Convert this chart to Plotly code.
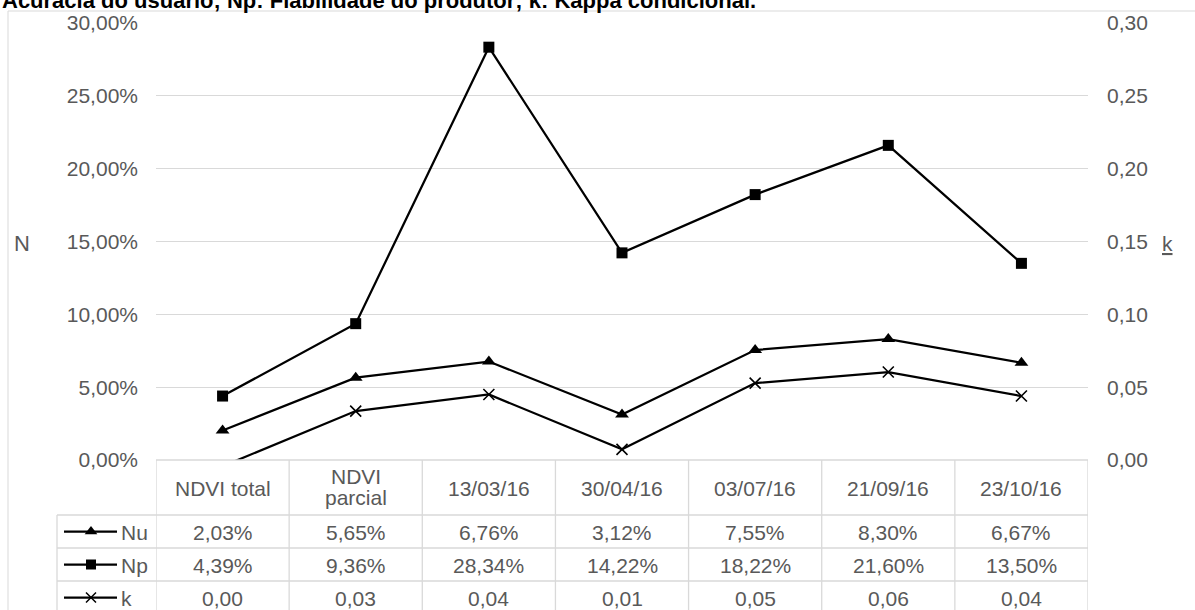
import plotly.graph_objects as go

# ---------------- data ----------------
categories = ["NDVI total", "NDVI parcial", "13/03/16", "30/04/16", "03/07/16", "21/09/16", "23/10/16"]
header_labels = ["NDVI total", "NDVI\nparcial", "13/03/16", "30/04/16", "03/07/16", "21/09/16", "23/10/16"]
series_names = ["Nu", "Np", "k"]
nu_values = [0.0203, 0.0565, 0.0676, 0.0312, 0.0755, 0.0830, 0.0667]
np_values = [0.0439, 0.0936, 0.2834, 0.1422, 0.1822, 0.2160, 0.1350]
k_values = [-0.0043, 0.0336, 0.0450, 0.0073, 0.0528, 0.0604, 0.0439]
title_text = "Acurácia do usuário; Np: Fiabilidade do produtor; k: Kappa condicional."

# ---------------- layout constants (pixels) ----------------
W, H = 1195, 610
PL, PR, PT, PB = 156, 1088, 23, 460
GRID = "#d9d9d9"
TXT = "#595959"
FONT = "Liberation Sans, Arial, sans-serif"
FS = 21

fig = go.Figure()

# data traces
fig.add_trace(go.Scatter(x=categories, y=nu_values, name="Nu", mode="lines+markers",
                         line=dict(color="black", width=2.25),
                         marker=dict(symbol="triangle-up", size=12, color="black"),
                         xaxis="x", yaxis="y"))
fig.add_trace(go.Scatter(x=categories, y=np_values, name="Np", mode="lines+markers",
                         line=dict(color="black", width=2.25),
                         marker=dict(symbol="square", size=11, color="black"),
                         xaxis="x", yaxis="y"))
fig.add_trace(go.Scatter(x=categories, y=k_values, name="k", mode="lines+markers",
                         line=dict(color="black", width=2.25),
                         marker=dict(symbol="x-thin", size=11, color="black",
                                     line=dict(color="black", width=1.6)),
                         xaxis="x", yaxis="y2"))

# ---------------- table ----------------
shapes = []
def hline(x0, x1, y):
    shapes.append(dict(type="line", xref="x3", yref="y3", x0=x0, x1=x1, y0=y, y1=y,
                       line=dict(color=GRID, width=1.3), layer="above"))

row_edges = [460, 515, 548, 581, 614]
hline(PL, PR, row_edges[0])
for y in row_edges[1:4]:
    hline(57, PR, y)
for i in range(len(categories) + 1):
    shapes.append(dict(type="line", xref="x", yref="y3", x0=i - 0.5, x1=i - 0.5, y0=460, y1=620,
                       line=dict(color=GRID, width=1.3), layer="above"))
shapes.append(dict(type="line", xref="x3", yref="y3", x0=57, x1=57, y0=515, y1=620,
                   line=dict(color=GRID, width=1.3)))
# chart border
shapes.append(dict(type="rect", xref="x3", yref="y3", x0=8, x1=1210, y0=11, y1=630,
                   line=dict(color=GRID, width=1), fillcolor="rgba(0,0,0,0)", layer="below"))

annotations = []
def txt(x, y, s, xref="x3", xanchor="center", size=FS, color=TXT):
    annotations.append(dict(x=x, y=y, xref=xref, yref="y3", text=s, showarrow=False,
                            xanchor=xanchor, yanchor="middle",
                            font=dict(family=FONT, size=size, color=color)))

# header row
for cat, lab in zip(categories, header_labels):
    lines = lab.split("\n")
    if len(lines) == 1:
        txt(cat, 488, lines[0], xref="x")
    else:
        txt(cat, 476, lines[0], xref="x")
        txt(cat, 497, lines[1], xref="x")

def fmt_pct(v):
    return f"{v * 100:.2f}%".replace(".", ",")

def fmt_num(v):
    s = f"{v:.2f}"
    if s == "-0.00":
        s = "0.00"
    return s.replace(".", ",")

row_centers = [532, 565, 598]
for cat, a, b, c in zip(categories, nu_values, np_values, k_values):
    txt(cat, row_centers[0], fmt_pct(a), xref="x")
    txt(cat, row_centers[1], fmt_pct(b), xref="x")
    txt(cat, row_centers[2], fmt_num(c), xref="x")

# legend keys inside the table
key_symbols = [dict(symbol="triangle-up", size=11, color="black"),
               dict(symbol="square", size=10, color="black"),
               dict(symbol="x-thin", size=10, color="black", line=dict(color="black", width=1.5))]
for name, yc, mk in zip(series_names, row_centers, key_symbols):
    fig.add_trace(go.Scatter(x=[64, 117], y=[yc - 0.5, yc - 0.5], mode="lines",
                             line=dict(color="black", width=2.25), xaxis="x3", yaxis="y3",
                             hoverinfo="skip"))
    fig.add_trace(go.Scatter(x=[91], y=[yc - 0.5], mode="markers", marker=mk,
                             xaxis="x3", yaxis="y3", hoverinfo="skip"))
    txt(119, yc, name, xanchor="left")

# axis titles
txt(22, 243, "N", size=22)
txt(1167, 243, "<u>k</u>", size=21)

# chart title (top clipped in reference)
annotations.append(dict(x=0, y=0, xref="x3", yref="y3", text=f"<b>{title_text}</b>",
                        showarrow=False, xanchor="left", yanchor="middle",
                        font=dict(family=FONT, size=22, color="black")))

fig.update_layout(
    width=W, height=H,
    margin=dict(l=0, r=0, t=0, b=0, pad=0, autoexpand=False),
    paper_bgcolor="white", plot_bgcolor="rgba(0,0,0,0)",
    showlegend=False, separators=",.",
    xaxis=dict(domain=[PL / W, PR / W], type="category", range=[-0.5, 6.5],
               showticklabels=False, showgrid=False, zeroline=False, showline=False,
               anchor="y", automargin=False),
    yaxis=dict(domain=[(H - PB) / H, (H - PT) / H], range=[0, 0.3], dtick=0.05,
               tickformat=".2%", gridcolor=GRID, gridwidth=1, zeroline=False,
               showline=False, ticks="", ticklabelstandoff=17, automargin=False,
               tickfont=dict(family=FONT, size=FS, color=TXT), anchor="x"),
    yaxis2=dict(overlaying="y", side="right", anchor="x", range=[0, 0.3], dtick=0.05,
                tickformat=".2f", showgrid=False, zeroline=False, showline=False,
                ticks="", ticklabelstandoff=18, automargin=False,
                tickfont=dict(family=FONT, size=FS, color=TXT)),
    xaxis3=dict(domain=[0, 1], range=[0, W], visible=False, anchor="y3",
                fixedrange=True, automargin=False),
    yaxis3=dict(domain=[0, 1], range=[H, 0], visible=False, anchor="x3",
                fixedrange=True, automargin=False),
    shapes=shapes, annotations=annotations,
)

fig.write_html("out.html", config={"displayModeBar": False},
               post_script="document.body.style.margin='0px';")
